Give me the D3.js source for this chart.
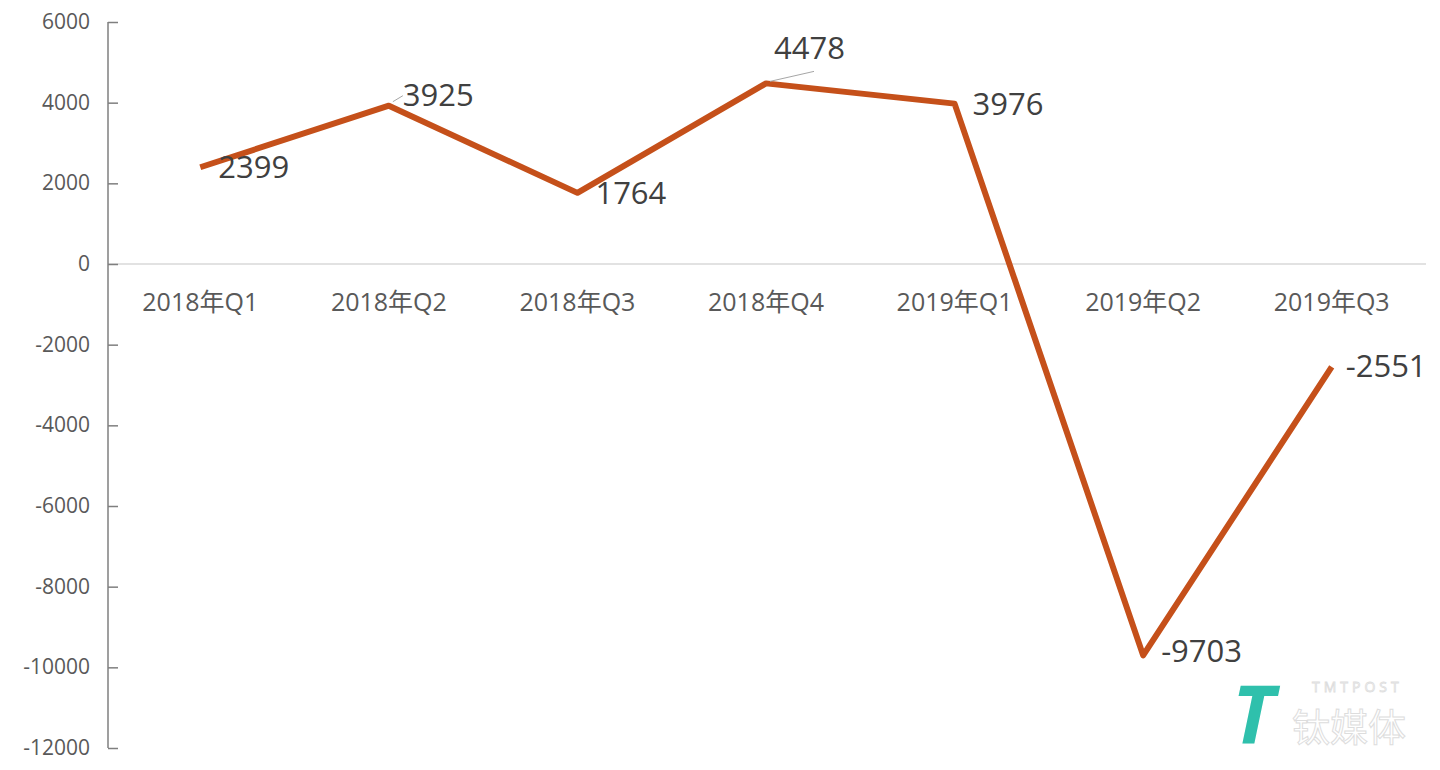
<!DOCTYPE html>
<html><head><meta charset="utf-8">
<script src="https://cdn.jsdelivr.net/npm/d3@7"></script>
<style>body{margin:0;background:#fff}svg{display:block}</style>
</head><body><svg id="c" width="1440" height="770"></svg>
<script>
const categories=["2018年Q1","2018年Q2","2018年Q3","2018年Q4","2019年Q1","2019年Q2","2019年Q3"];
const values=[2399,3925,1764,4478,3976,-9703,-2551];
const yTicks=[6000,4000,2000,0,-2000,-4000,-6000,-8000,-10000,-12000];
const labelOffsets=[[18,1],[14,-10],[18,1],[8,-34],[18,1],[18,-3],[14,0]];

const svg=d3.select("#c");
const font="'Open Sans','Noto Sans CJK SC',sans-serif";
const x=d3.scaleBand().domain(categories).range([106,1426]);
const y=d3.scaleLinear().domain([-12000,6000]).range([748,22]);

svg.append("line").attr("x1",108).attr("x2",1426).attr("y1",y(0)).attr("y2",y(0)).attr("stroke","#d9d9d9").attr("stroke-width",1.5);

const ya=svg.append("g").attr("transform","translate(108,0)")
 .call(d3.axisRight(y).tickValues(yTicks).tickSize(10).tickFormat(""));
ya.select(".domain").attr("stroke","#7f7f7f").attr("stroke-width",1.5).attr("d","M0,22V748");
ya.selectAll(".tick line").attr("stroke","#7f7f7f").attr("stroke-width",1.5);
svg.append("g").selectAll("text").data(yTicks).join("text")
 .attr("x",90).attr("y",d=>y(d)+7).attr("text-anchor","end")
 .attr("font-family",font).attr("font-size",21).attr("fill","#595959").text(d=>d);

svg.append("g").selectAll("text").data(categories).join("text")
 .attr("x",d=>x(d)+x.bandwidth()/2).attr("y",311).attr("text-anchor","middle")
 .attr("font-family",font).attr("font-size",25).attr("fill","#595959").text(d=>d);

const cx=(d,i)=>x(categories[i])+x.bandwidth()/2;
svg.append("path").datum(values)
 .attr("d",d3.line().x((d,i)=>cx(d,i)).y(d=>y(d)))
 .attr("fill","none").attr("stroke","#c5501a").attr("stroke-width",6).attr("stroke-linejoin","round");

svg.append("line").attr("x1",cx(0,1)+4).attr("y1",y(values[1])-4).attr("x2",cx(0,1)+14).attr("y2",y(values[1])-10).attr("stroke","#a6a6a6");
svg.append("line").attr("x1",cx(0,3)+4).attr("y1",y(values[3])-2).attr("x2",cx(0,3)+48).attr("y2",y(values[3])-12).attr("stroke","#a6a6a6");

svg.append("g").selectAll("text").data(values).join("text")
 .attr("x",(d,i)=>cx(d,i)+labelOffsets[i][0]).attr("y",(d,i)=>y(d)+labelOffsets[i][1]+10)
 .attr("font-family",font).attr("font-size",31).attr("fill","#404040").text(d=>d);

const wm=svg.append("g");
wm.append("text").attr("x",1232).attr("y",744).attr("font-family",font).attr("font-size",80).attr("font-weight",700)
 .attr("font-style","italic").attr("fill","#2fc0ac").text("T");
wm.append("text").attr("x",1312).attr("y",692).attr("font-family",font).attr("font-size",14).attr("letter-spacing",4)
 .attr("fill","#fff").attr("stroke","#ddd").attr("stroke-width",0.8).text("TMTPOST");
wm.append("text").attr("x",1292).attr("y",741).attr("font-family","'Noto Sans CJK SC'").attr("font-size",38)
 .attr("fill","#fff").attr("stroke","#ddd").attr("stroke-width",1).text("钛媒体");
</script></body></html>
